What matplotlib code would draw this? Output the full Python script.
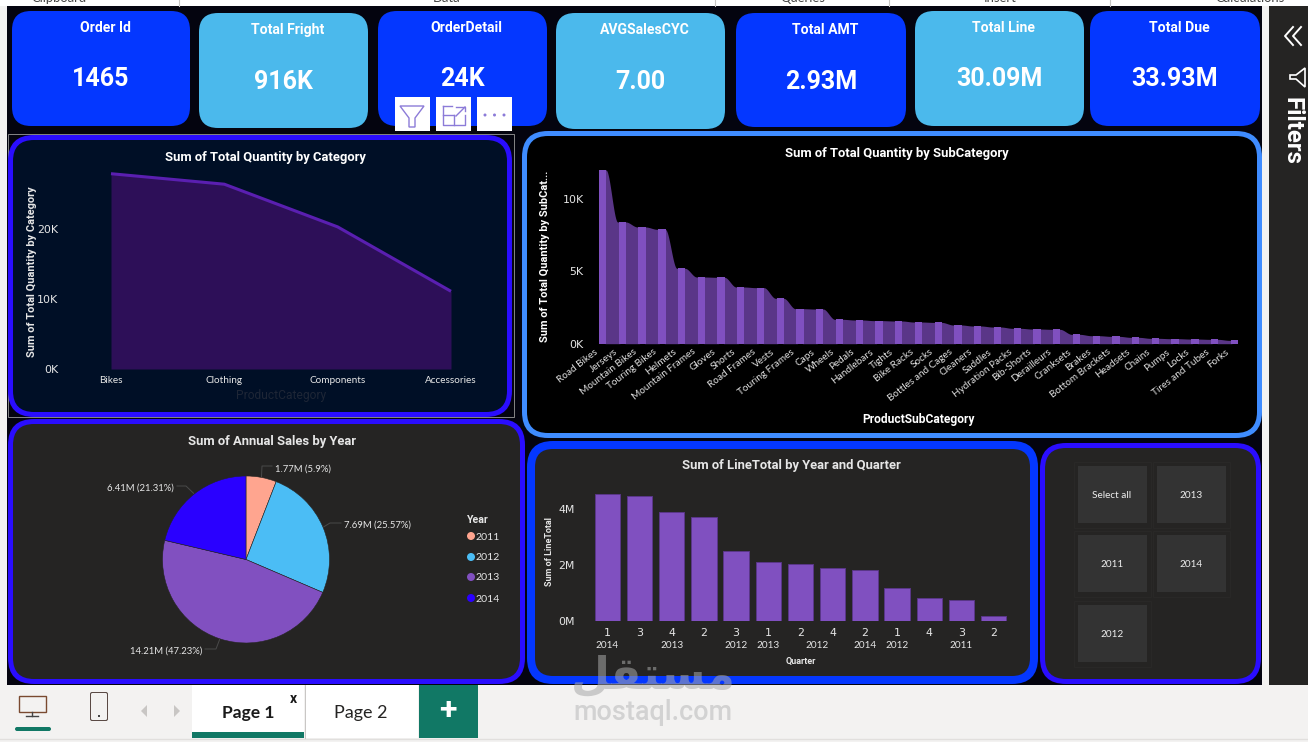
from itertools import groupby

import matplotlib

matplotlib.use("Agg")

import matplotlib.pyplot as plt
import numpy as np
from matplotlib.patches import Circle, FancyBboxPatch, Polygon, Rectangle
from matplotlib.ticker import FuncFormatter
from matplotlib.transforms import ScaledTranslation

W, H = 1308, 742

TITLE = ["Roboto", "DejaVu Sans"]
BODY = ["Lato", "DejaVu Sans"]

# KPI cards
card_titles = ["Order Id", "Total Fright", "OrderDetail", "AVGSalesCYC", "Total AMT", "Total Line", "Total Due"]
card_values = ["1465", "916K", "24K", "7.00", "2.93M", "30.09M", "33.93M"]

# area chart
categories = ["Bikes", "Clothing", "Components", "Accessories"]
category_qty = [27900, 26400, 20300, 11100]

# ribbon chart
subcategories = [
    "Road Bikes", "Jerseys", "Mountain Bikes", "Touring Bikes", "Helmets", "Mountain Frames",
    "Gloves", "Shorts", "Road Frames", "Vests", "Touring Frames", "Caps", "Wheels", "Pedals",
    "Handlebars", "Tights", "Bike Racks", "Socks", "Bottles and Cages", "Cleaners", "Saddles",
    "Hydration Packs", "Bib-Shorts", "Derailleurs", "Cranksets", "Brakes", "Bottom Brackets",
    "Headsets", "Chains", "Pumps", "Locks", "Tires and Tubes", "Forks",
]
subcategory_qty = [
    11980, 8395, 8050, 7890, 5200, 4600, 4580, 3910, 3865, 3130, 2415, 2390, 1680, 1635,
    1590, 1565, 1495, 1470, 1290, 1220, 1150, 1060, 1010, 990, 645, 550, 505, 437, 370,
    345, 320, 300, 230,
]

# pie chart
years = ["2011", "2012", "2013", "2014"]
annual_sales = [1.77, 7.69, 14.21, 6.41]
annual_labels = ["1.77M (5.9%)", "7.69M (25.57%)", "14.21M (47.23%)", "6.41M (21.31%)"]
year_colors = ["#FFA58F", "#4BBDF5", "#8150C0", "#2A00FF"]

# bars by year and quarter
bar_quarters = ["1", "3", "4", "2", "3", "1", "2", "4", "2", "1", "4", "3", "2"]
bar_years = ["2014", "2013", "2013", "2013", "2012", "2013", "2012", "2012", "2014", "2012", "2011", "2011", "2011"]
line_total = [4.54, 4.46, 3.89, 3.71, 2.50, 2.11, 2.06, 1.92, 1.85, 1.18, 0.82, 0.75, 0.18]

slicer_items = ["Select all", "2013", "2011", "2014", "2012"]

page_tabs = ["Page 1", "Page 2"]
ribbon_groups = ["Clipboard", "Data", "Queries", "Insert", "Calculations"]

BLUE = "#0437FF"
SKY = "#4BB9EC"
VIOLET = "#2A0DFF"
DARK = "#252423"
PURPLE = "#8050C0"
PURPLE_DIM = "#5A3688"
GREEN = "#117865"


def px(size):
    return size * 0.72


def rounded(ax, x0, y0, x1, y1, r, color, **kw):
    ax.add_patch(
        FancyBboxPatch(
            (x0 + r, y0 + r),
            x1 - x0 - 2 * r,
            y1 - y0 - 2 * r,
            boxstyle=f"round,pad={r},rounding_size={r}",
            fc=color,
            ec="none",
            **kw,
        )
    )


def panel(ax, x0, y0, x1, y1, border, fill, thick, r=26):
    rounded(ax, x0, y0, x1, y1, r, border)
    rounded(ax, x0 + thick, y0 + thick, x1 - thick, y1 - thick, r - thick, fill)


def chart_axes(left, right, top, bottom):
    ax = fig.add_axes([left / W, 1 - bottom / H, (right - left) / W, (bottom - top) / H])
    ax.patch.set_alpha(0)
    for s in ax.spines.values():
        s.set_visible(False)
    return ax


fig = plt.figure(figsize=(W / 100, H / 100), dpi=100, facecolor="#F3F2F1")

page = fig.add_axes([0, 0, 1, 1], zorder=0)
page.set_xlim(0, W)
page.set_ylim(H, 0)
page.axis("off")

# ribbon stub along the top edge
page.add_patch(Rectangle((0, 0), W, 6, fc="white", ec="none"))
for x, name in zip([59, 447, 803, 1000, 1250], ribbon_groups):
    page.text(x, -2, name, ha="center", va="center", fontsize=px(13), color="#444444", family=BODY)
for x in [179, 715, 889, 1110]:
    page.plot([x, x], [0, 6], color="#C8C6C4", lw=0.8)

# report canvas and filter pane
page.add_patch(Rectangle((7, 6), 1255, 679, fc="#04040F", ec="none"))
page.add_patch(Rectangle((1269, 6), 39, 679, fc=DARK, ec="none"))

# KPI cards
card_boxes = [
    (12, 11, 190, 126, BLUE), (199, 13, 368, 128, SKY), (378, 11, 547, 126, BLUE),
    (556, 13, 725, 129, SKY), (736, 13, 906, 127, BLUE), (915, 11, 1084, 126, SKY),
    (1090, 11, 1260, 126, BLUE),
]
title_ys = [28, 30, 28, 30, 30, 28, 28]
value_ys = [79, 82, 79, 82, 82, 79, 79]
for box, name, val, ty, vy in zip(card_boxes, card_titles, card_values, title_ys, value_ys):
    x0, y0, x1, y1, color = box
    rounded(page, x0, y0, x1, y1, 19, color)
    cx = (x0 + x1) / 2
    page.text(cx + 4, ty, name, ha="center", va="center", color="white", fontsize=px(14), weight="bold", family=TITLE)
    page.text(cx, vy, val, ha="center", va="center", color="white", fontsize=px(25), weight="bold", family=TITLE)

# panels
page.add_patch(Rectangle((8, 134), 506, 283, fc="none", ec="#9A9A9A", lw=0.6))
panel(page, 8, 135, 512, 417, VIOLET, "#000F26", 5)
panel(page, 522, 131, 1262, 438, "#3F8CFF", "#000000", 5)
panel(page, 8, 419, 525, 684, VIOLET, DARK, 5)
panel(page, 527, 441, 1038, 684, BLUE, DARK, 8)
panel(page, 1040, 443, 1261, 684, VIOLET, DARK, 5)

# area chart
ax = chart_axes(111, 451, 159, 369)
xs = np.arange(len(categories))
ax.fill_between(xs, category_qty, color="#2D0F58", lw=0)
ax.plot(xs, category_qty, color="#5A1FB0", lw=2.2, solid_capstyle="butt", clip_on=False)
ax.set_xlim(0, 3)
ax.set_ylim(0, 30000)
ax.set_xticks(xs, categories, family=BODY, fontsize=px(10), color="#E6E6E6")
ax.set_yticks([0, 10000, 20000])
ax.yaxis.set_major_formatter(FuncFormatter(lambda v, _: f"{v / 1000:.0f}K"))
ax.tick_params(axis="both", length=0)
ax.tick_params(axis="x", pad=5)
ax.tick_params(axis="y", pad=38, labelsize=px(11), labelcolor="#E6E6E6")
page.text(265, 157, "Sum of Total Quantity by Category", ha="center", va="center", color="white", fontsize=px(13), weight="bold", family=TITLE)
page.text(32, 272, "Sum of Total Quantity by Category", rotation=90, ha="center", va="center", color="#E6E6E6", fontsize=px(11), weight="bold", family=TITLE)
page.text(281, 396, "ProductCategory", ha="center", va="center", color="#1E2636", fontsize=px(12), family=TITLE)

# ribbon chart: bright columns joined by darker S-shaped ribbons
BAR_W = 0.37
ax = chart_axes(599, 1238, 162.45, 343.7)
xs = np.arange(len(subcategories))
ax.bar(xs, subcategory_qty, width=BAR_W, color=PURPLE, lw=0, zorder=3)
for i in range(len(xs) - 1):
    t = np.linspace(0, 1, 40)
    ease = np.clip((t - 0.06) / 0.78, 0, 1)
    ease = ease * ease * (3 - 2 * ease)
    rx = xs[i] + BAR_W / 2 - 0.06 + t * (1 - BAR_W + 0.12)
    ry = subcategory_qty[i] + (subcategory_qty[i + 1] - subcategory_qty[i]) * ease
    ax.fill_between(rx, ry, color=PURPLE_DIM, lw=0, zorder=2)
ax.set_xlim(-BAR_W / 2, len(xs) - 1 + BAR_W / 2)
ax.set_ylim(0, 12500)
ax.set_yticks([0, 5000, 10000])
ax.yaxis.set_major_formatter(FuncFormatter(lambda v, _: f"{v / 1000:.0f}K"))
ax.set_xticks(xs)
ax.set_xticklabels(subcategories, rotation=38, ha="right", rotation_mode="anchor", family=BODY, fontsize=px(10), color="#E0E0E0")
ax.tick_params(axis="both", length=0)
ax.tick_params(axis="x", pad=2.5)
ax.tick_params(axis="y", pad=11, labelsize=px(11), labelcolor="#E6E6E6")
# tick_params resets label transforms, so the offset goes on afterwards
shift = ScaledTranslation(-9 / 100, 0, fig.dpi_scale_trans)
for lab in ax.get_xticklabels():
    lab.set_transform(lab.get_transform() + shift)
page.text(897, 153, "Sum of Total Quantity by SubCategory", ha="center", va="center", color="white", fontsize=px(13), weight="bold", family=TITLE)
page.text(545, 256, "Sum of Total Quantity by SubCat...", rotation=90, ha="center", va="center", color="white", fontsize=px(11), weight="bold", family=TITLE)
page.text(918, 419, "ProductSubCategory", ha="center", va="center", color="white", fontsize=px(12), weight="bold", family=TITLE)

# pie chart
PIE_R = 83.5
ax = chart_axes(246 - PIE_R, 246 + PIE_R, 559.5 - PIE_R, 559.5 + PIE_R)
ax.pie(annual_sales, colors=year_colors, startangle=90, counterclock=False, radius=1,
       wedgeprops={"edgecolor": DARK, "linewidth": 0.4})
ax.set_xlim(-1, 1)
ax.set_ylim(-1, 1)
page.text(272, 441, "Sum of Annual Sales by Year", ha="center", va="center", color="#E6E6E6", fontsize=px(13), weight="bold", family=TITLE)

# leader lines start on the slice mid-angle and run out to each label
mids = 90 - (np.cumsum(annual_sales) - np.array(annual_sales) / 2) / sum(annual_sales) * 360
elbows = [(262, 466), (330, 523), (216, 649), (186, 486)]
stops = [(272, 466), (341, 523), (205, 649), (177, 486)]
anchors = [(275, "left", 469), (344, "left", 525), (202, "right", 651), (174, "right", 488)]
for mid, elbow, stop, (tx, ha, ty), txt in zip(mids, elbows, stops, anchors, annual_labels):
    a = np.deg2rad(mid)
    sx = 246 + PIE_R * 1.01 * np.cos(a)
    sy = 559.5 - PIE_R * 1.01 * np.sin(a)
    page.plot([sx, elbow[0], stop[0]], [sy, elbow[1], stop[1]], color="#4A4A4A", lw=0.7)
    page.text(tx, ty, txt, ha=ha, va="center", color="#E6E6E6", fontsize=px(9.5), family=BODY)

page.text(467, 520, "Year", ha="left", va="center", color="#E6E6E6", fontsize=px(10.5), weight="bold", family=TITLE)
for yr, color, y in zip(years, year_colors, [536, 557, 577, 598]):
    page.add_patch(Circle((471, y), 4, fc=color, ec="none"))
    page.text(476, y + 1, yr, ha="left", va="center", color="#E6E6E6", fontsize=px(10.5), family=BODY)

# bars by year and quarter
ax = chart_axes(591.2, 1009.8, 481.3, 621.3)
xs = np.arange(len(line_total))
ax.bar(xs, line_total, width=0.786, color=PURPLE, edgecolor=PURPLE_DIM, lw=0.7)
ax.set_xlim(-0.5, len(xs) - 0.5)
ax.set_ylim(0, 5)
ax.set_yticks([0, 2, 4])
ax.yaxis.set_major_formatter(FuncFormatter(lambda v, _: f"{v:.0f}M"))
ax.set_xticks(xs, bar_quarters)
ax.tick_params(axis="both", length=0, labelsize=px(11), labelcolor="#E6E6E6")
ax.tick_params(axis="x", pad=4.5)
ax.tick_params(axis="y", pad=12)
start = 0
for yr, grp in groupby(bar_years):
    n = len(list(grp))
    ax.annotate(yr, xy=(start + (n - 1) / 2, 0), xycoords=("data", "axes fraction"), xytext=(0, -24),
                textcoords="offset pixels", ha="center", va="center", color="#E6E6E6", fontsize=px(10), family=BODY)
    start += n
page.text(791, 465, "Sum of LineTotal by Year and Quarter", ha="center", va="center", color="#E6E6E6", fontsize=px(13), weight="bold", family=TITLE)
page.text(550, 552, "Sum of LineTotal", rotation=90, ha="center", va="center", color="#E6E6E6", fontsize=px(9), weight="bold", family=TITLE)
page.text(801, 661, "Quarter", ha="center", va="center", color="#E6E6E6", fontsize=px(9), weight="bold", family=TITLE)

# year slicer
tiles = [(1078, 466), (1157, 466), (1078, 535), (1157, 535), (1078, 605)]
for (x, y), item in zip(tiles, slicer_items):
    page.add_patch(Rectangle((x - 4.5, y - 4.5), 77, 66, fc="none", ec="#2A2928", lw=0.6))
    page.add_patch(Rectangle((x, y), 68.5, 57, fc="#333333", ec="none"))
    page.text(x + 34, y + 29.5, item, ha="center", va="center", color="#EDEDED", fontsize=px(10), family=BODY)

# visual header buttons
for x in [395, 436, 477]:
    page.add_patch(Rectangle((x, 97), 35, 34, fc="white", ec="none", zorder=5))
ICON = "#8C7BD8"
page.add_patch(Polygon([(400, 106), (424, 106), (415, 118), (415, 127), (409, 127), (409, 118)], fc="none", ec=ICON, lw=1, zorder=6))
page.plot([443, 443, 465, 465], [106, 125, 125, 115], color=ICON, lw=1, zorder=6)
page.plot([443, 454], [115, 115], color=ICON, lw=1, zorder=6)
page.plot([454, 454], [115, 125], color=ICON, lw=1, zorder=6)
page.plot([443, 452], [106, 106], color=ICON, lw=1, zorder=6)
page.plot([456, 465, 465], [107, 107, 111], color=ICON, lw=1, zorder=6)
page.plot([456, 465], [116, 107], color=ICON, lw=1, zorder=6)
for x in [485, 494.5, 504]:
    page.add_patch(Circle((x, 115), 1.5, fc=ICON, ec="none", zorder=6))

# filter pane furniture
page.plot([1293, 1285, 1293], [27, 36, 45], color="white", lw=1.4)
page.plot([1301, 1293, 1301], [27, 36, 45], color="white", lw=1.4)
page.add_patch(Polygon([(1305, 68), (1305, 87), (1296, 79), (1290, 79), (1290, 75), (1296, 75)], fc="none", ec="white", lw=1.2))
page.text(1292, 131, "Filters", rotation=-90, ha="center", va="center", color="white", fontsize=px(24), weight="bold", family=TITLE)

# page tab bar
page.plot([0, W], [738.5, 738.5], color="#E1DFDD", lw=1)
page.add_patch(Rectangle((192, 685), 112, 53, fc="white", ec="none"))
page.add_patch(Rectangle((305, 685), 113, 53, fc="white", ec="none"))
page.plot([304.5, 304.5], [685, 738], color="#C8C6C4", lw=0.7)
page.add_patch(Rectangle((192, 732), 112, 6, fc=GREEN, ec="none"))
page.add_patch(Rectangle((419, 685), 59, 53, fc=GREEN, ec="none"))
page.text(448, 710, "+", ha="center", va="center", color="white", fontsize=px(32), weight="bold", family=TITLE)
page.text(248, 713, page_tabs[0], ha="center", va="center", color="#1B1B1B", fontsize=px(17.5), family=BODY, weight="bold")
page.text(361, 713, page_tabs[1], ha="center", va="center", color="#252423", fontsize=px(18), family=BODY)
page.text(293, 699, "x", ha="center", va="center", color="#1B1B1B", fontsize=px(14), weight="bold", family=TITLE)

page.add_patch(Rectangle((18.5, 696), 27, 16, fc="none", ec="#7A4A30", lw=1))
page.plot([32, 32], [712, 716], color="#444444", lw=1)
page.plot([26, 38], [716, 716], color="#444444", lw=1)
rounded(page, 15, 727, 51, 731, 2, GREEN)
rounded(page, 90, 692, 108, 721, 2, "#5A4A45")
rounded(page, 91, 693, 107, 720, 1.5, "#F3F2F1")
page.add_patch(Rectangle((97.5, 715), 2, 2, fc="#444444", ec="none"))
page.add_patch(Polygon([(147, 705), (147, 717), (141, 711)], fc="#C8C6C4", ec="none"))
page.add_patch(Polygon([(174, 705), (174, 717), (180, 711)], fc="#C8C6C4", ec="none"))

# site watermark over everything
over = fig.add_axes([0, 0, 1, 1], zorder=10)
over.set_xlim(0, W)
over.set_ylim(H, 0)
over.axis("off")
over.text(653, 676, "\ufede\ufed8\ufe98\ufeb4\ufee3", ha="center", va="center", color="#A8A8A8", alpha=0.55,
          fontsize=px(45), weight="bold", family=["DejaVu Sans"])
over.text(653, 713, "mostaql.com", ha="center", va="center", color="#D2D2D2", fontsize=px(27), family=TITLE, weight="medium")

fig.savefig("out.png", dpi=100, facecolor=fig.get_facecolor())
